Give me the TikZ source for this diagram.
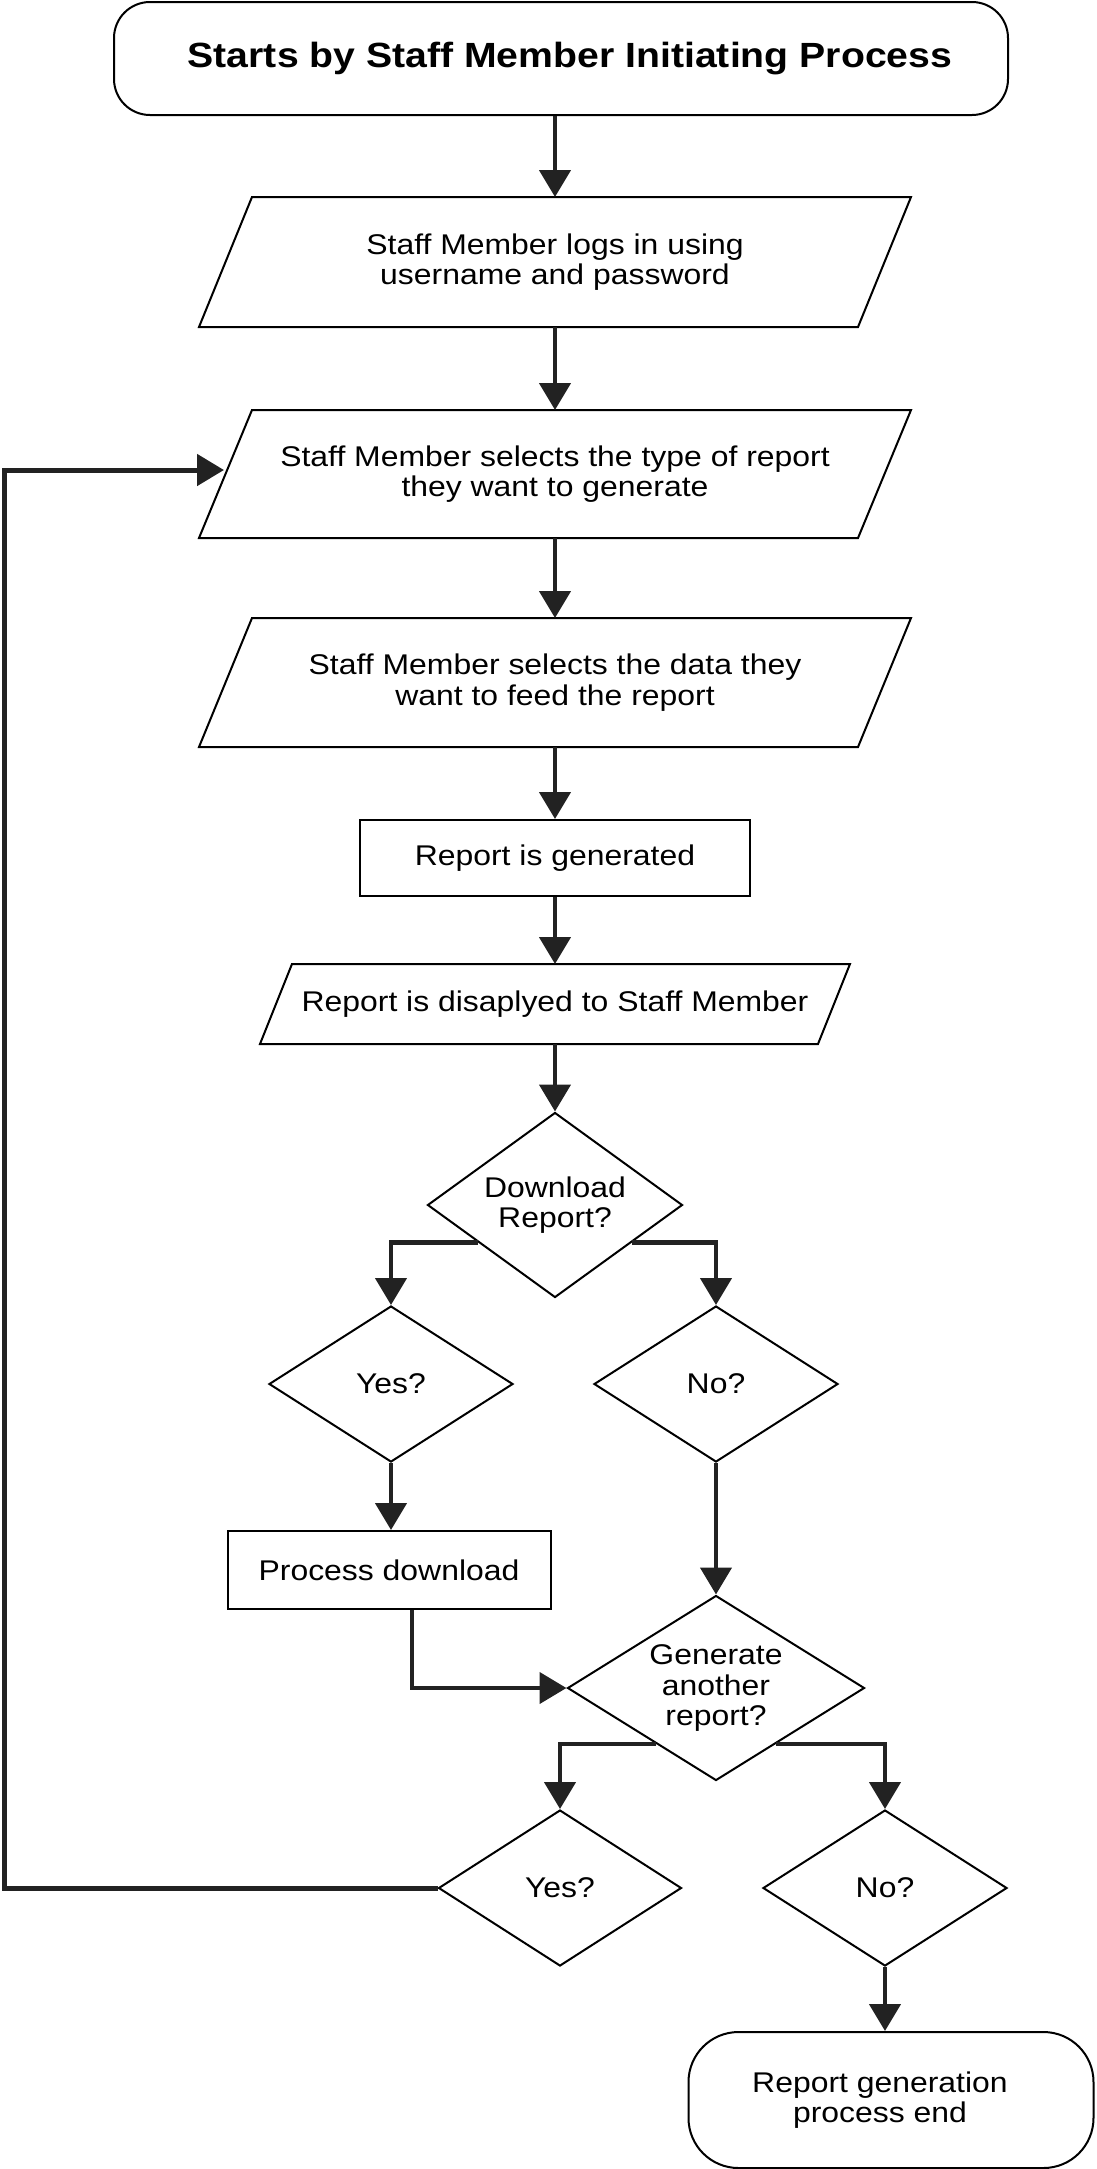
\documentclass[tikz,border=0pt]{standalone}
\usepackage{fontspec}
\setmainfont{Liberation Sans}[FakeStretch=1.12]
\usetikzlibrary{shapes.geometric,arrows.meta,calc}
\definecolor{flowline}{HTML}{222222}
\newcommand{\slantbox}[2]{\draw[line width=2pt] ([xshift=#2]#1.north west) -- (#1.north east)
  -- ([xshift=-#2]#1.south east) -- (#1.south west) -- cycle;}
\tikzset{
  base/.style={draw=black, line width=2pt, align=center, inner sep=0pt,
    font=\fontsize{28.5}{30.5}\selectfont},
  terminal/.style={base, rectangle, rounded corners=36pt},
  inout/.style={base, rectangle, draw=none},
  process/.style={base, rectangle},
  decision/.style={base, diamond},
  flow/.style={draw=flowline, line width=4.5pt, line join=miter,
    -{Triangle[length=27pt,width=31pt]}},
}

\begin{document}
\begin{tikzpicture}[x=1pt, y=-1pt]
    \useasboundingbox (0,0) rectangle (1096,2169);
    % main column
    \node[terminal, minimum width=894pt, minimum height=113pt,
      font=\bfseries\fontsize{35}{38}\selectfont] (start) at (561,58.5)
      {\hspace*{18pt}Starts by Staff Member Initiating Process};
    \node[inout, minimum width=710pt, minimum height=128pt] (login) at (555,262)
      {Staff Member logs in using\\ username and password};
    \node[inout, minimum width=710pt, minimum height=126pt] (rtype) at (555,474)
      {Staff Member selects the type of report\\they want to generate};
    \node[inout, minimum width=710pt, minimum height=127pt] (rdata) at (555,682.5)
      {Staff Member selects the data they\\ want to feed the report};
    \node[process, minimum width=390pt, minimum height=76pt] (gen) at (555,858)
      {Report is generated};
    \node[inout, minimum width=588pt, minimum height=78pt] (shown) at (555,1004)
      {Report is disaplyed to Staff Member};
    \slantbox{login}{53pt}
    \slantbox{rtype}{53pt}
    \slantbox{rdata}{53pt}
    \slantbox{shown}{32pt}
    % first decision
    \node[decision, minimum width=255pt, minimum height=185pt, shape aspect=1.4] (dl) at (555,1205)
      {Download\\Report?};
    \node[decision, minimum width=244pt, minimum height=156pt] (yes1) at (391,1384) {Yes?};
    \node[decision, minimum width=244pt, minimum height=156pt] (no1) at (716,1384) {No?};
    \node[process, minimum width=323pt, minimum height=78pt] (proc) at (389,1570)
      {Process download};
    % second decision
    \node[decision, minimum width=297pt, minimum height=185pt, shape aspect=1.6] (again) at (716,1688)
      {Generate\\another\\report?};
    \node[decision, minimum width=243pt, minimum height=156pt] (yes2) at (560,1888) {Yes?};
    \node[decision, minimum width=244pt, minimum height=156pt] (no2) at (885,1888) {No?};
    \node[terminal, minimum width=405pt, minimum height=136pt, rounded corners=50pt]
      (stop) at (891,2100) {\hspace*{-22pt}Report generation\\\hspace*{-22pt}process end};
    \coordinate (loopx) at (4,0);

    % connectors
    \draw[flow] (start.south -| login) -- (login.north);
    \draw[flow] (login) -- (rtype);
    \draw[flow] (rtype) -- (rdata);
    \draw[flow] (rdata) -- (gen);
    \draw[flow] (gen) -- (shown);
    \draw[flow] (shown) -- (dl);
    \draw[flow] ($(dl.west)!0.4!(dl.south)$) -| (yes1.north);
    \draw[flow] ($(dl.east)!0.4!(dl.south)$) -| (no1.north);
    \draw[flow] (yes1) -- (yes1 |- proc.north);
    \draw[flow] (no1) -- (again);
    \draw[flow] ([xshift=23pt]proc.south) |- (again.west);
    \draw[flow] ($(again.west)!0.6!(again.south)$) -| (yes2.north);
    \draw[flow] ($(again.east)!0.6!(again.south)$) -| (no2.north);
    \draw[flow] (no2.south) -- (no2.south |- stop.north);
    \draw[flow, line width=5pt] (yes2.west) -- (yes2.west -| loopx)
      |- ([xshift=25pt,yshift=4pt]rtype.west);
\end{tikzpicture}
\end{document}
